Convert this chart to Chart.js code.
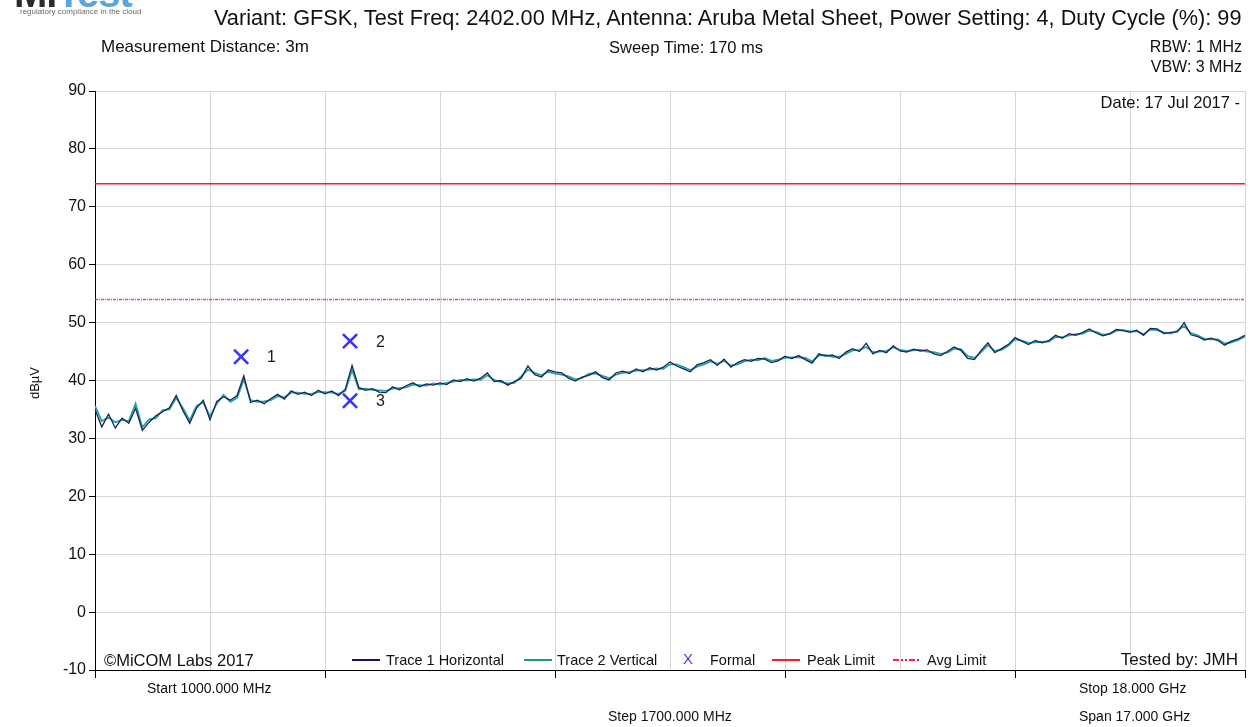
<!DOCTYPE html>
<html>
<head>
<meta charset="utf-8">
<script src="https://cdn.jsdelivr.net/npm/chart.js@4.4.1/dist/chart.umd.min.js"></script>
<style>
  body { margin: 0; background: #fff; }
  #wrap { position: relative; width: 1252px; height: 727px; overflow: hidden; font-family: "Liberation Sans", Arial, sans-serif; color: #111; }
  canvas { position: absolute; left: 0; top: 0; }
  .t { position: absolute; white-space: nowrap; line-height: 20px; height: 20px; font-size: 16px; }
  .leg { position: absolute; height: 2px; width: 28px; }
</style>
</head>
<body>
<div id="wrap">
  <canvas id="chart" width="1252" height="727"></canvas>

  <!-- logo, cut at the top edge -->
  <div class="t" style="left:14px;top:-22px;font:bold 40px 'Liberation Sans',sans-serif;line-height:30px;height:30px;letter-spacing:-1px"><span style="color:#2b2b2b">Mi</span><span style="color:#5aa6dc">Test</span></div>
  <div class="t" style="left:20px;top:7px;font-size:8px;line-height:10px;color:#6a6a6a">regulatory compliance in the cloud</div>

  <div class="t" style="left:214px;top:7px;font-size:21.7px;line-height:22px;height:22px">Variant: GFSK, Test Freq: 2402.00 MHz, Antenna: Aruba Metal Sheet, Power Setting: 4, Duty Cycle (%): 99</div>
  <div class="t" style="left:101px;top:37px;font-size:17px">Measurement Distance: 3m</div>
  <div class="t" style="left:609px;top:37px;font-size:16.5px">Sweep Time: 170 ms</div>
  <div class="t" style="right:10px;top:37px">RBW: 1 MHz</div>
  <div class="t" style="right:10px;top:57px">VBW: 3 MHz</div>
  <div class="t" style="right:12px;top:92px;font-size:16.5px">Date: 17 Jul 2017 -</div>

  <div class="t" style="left:104px;top:650px;font-size:16.5px">©MiCOM Labs 2017</div>
  <div class="t" style="right:14px;top:650px;font-size:17px">Tested by: JMH</div>

  <div class="leg" style="left:352px;top:659px;background:#14146e"></div>
  <div class="t" style="left:386px;top:650px;font-size:14.5px">Trace 1 Horizontal</div>
  <div class="leg" style="left:524px;top:659px;background:#1f9a78"></div>
  <div class="t" style="left:557px;top:650px;font-size:14.5px">Trace 2 Vertical</div>
  <div class="t" style="left:683px;top:649px;font-size:15px;color:#4b3fd6">X</div>
  <div class="t" style="left:710px;top:650px;font-size:14.5px">Formal</div>
  <div class="leg" style="left:772px;top:659px;background:#ff1a2a"></div>
  <div class="t" style="left:807px;top:650px;font-size:14.5px">Peak Limit</div>
  <svg style="position:absolute;left:893px;top:655px" width="28" height="10"><line x1="0" y1="5" x2="28" y2="5" stroke="#ff1a4a" stroke-width="2" stroke-dasharray="6 2 2 2 2 2"/></svg>
  <div class="t" style="left:927px;top:650px;font-size:14.5px">Avg Limit</div>

  <div class="t" style="left:147px;top:678px;font-size:14px">Start 1000.000 MHz</div>
  <div class="t" style="left:608px;top:706px;font-size:14px">Step 1700.000 MHz</div>
  <div class="t" style="left:1079px;top:678px;font-size:14px">Stop 18.000 GHz</div>
  <div class="t" style="left:1079px;top:706px;font-size:14px">Span 17.000 GHz</div>

  <div class="t" style="left:15px;top:373px;font-size:13px;transform:rotate(-90deg);width:40px;text-align:center">dBµV</div>
</div>

<script>
// Sweep: 1000 MHz to 18000 MHz, one reading every 100 MHz
const startMHz = 1000;
const stepMHz = 100;
const xGridMHz = [1000, 2700, 4400, 6100, 7800, 9500, 11200, 12900, 14600, 16300, 18000];

// Trace 1 Horizontal (dBµV)
const trace1 = [
  35.0, 32.0, 34.2, 31.8, 33.5, 32.6, 35.2, 31.4, 32.8, 33.9,
  34.6, 35.3, 37.4, 34.8, 32.6, 35.2, 36.6, 33.2, 36.4, 37.2,
  36.6, 37.4, 40.8, 36.2, 36.6, 36.0, 36.9, 37.6, 36.8, 38.2,
  37.6, 38.0, 37.4, 38.3, 37.7, 38.2, 37.4, 38.5, 42.6, 38.8,
  38.3, 38.6, 38.0, 37.9, 38.9, 38.4, 39.1, 39.6, 38.9, 39.4,
  39.2, 39.6, 39.3, 40.1, 39.8, 40.3, 39.9, 40.4, 41.3, 39.8,
  40.0, 39.2, 39.8, 40.4, 42.5, 41.0, 40.6, 41.8, 41.5, 41.3,
  40.4, 39.9, 40.6, 40.9, 41.5, 40.5, 40.1, 41.3, 41.6, 41.2,
  42.0, 41.5, 42.2, 41.8, 42.3, 43.2, 42.5, 42.0, 41.5, 42.7,
  43.1, 43.6, 42.6, 43.7, 42.3, 43.1, 43.6, 43.3, 43.8, 43.7,
  43.1, 43.4, 44.2, 43.8, 44.3, 43.6, 43.0, 44.6, 44.2, 44.4,
  43.8, 44.9, 45.5, 45.0, 46.4, 44.6, 45.2, 44.8, 46.0, 45.1,
  44.9, 45.4, 45.1, 45.3, 44.6, 44.3, 45.0, 45.8, 45.2, 43.8,
  43.6, 45.2, 46.5, 44.8, 45.5, 46.2, 47.4, 46.8, 46.2, 46.9,
  46.5, 46.9, 47.8, 47.3, 48.1, 47.8, 48.3, 48.9, 48.2, 47.7,
  48.1, 48.8, 48.6, 48.3, 48.7, 47.8, 49.0, 48.9, 48.1, 48.3,
  48.4, 50.0, 47.9, 47.6, 47.0, 47.3, 46.9, 46.1, 46.8, 47.2, 47.8
];

// Trace 2 Vertical (dBµV)
const trace2 = [
  35.6, 33.0, 33.6, 32.8, 33.2, 33.0, 36.0, 31.9, 33.3, 33.5,
  34.9, 35.0, 37.0, 35.2, 33.1, 35.6, 36.2, 33.8, 36.0, 37.5,
  36.3, 37.0, 40.2, 36.6, 36.3, 36.4, 36.6, 37.3, 37.1, 37.9,
  37.9, 37.7, 37.7, 38.0, 38.0, 37.9, 37.7, 38.2, 41.8, 38.5,
  38.6, 38.4, 38.3, 38.2, 38.6, 38.7, 38.8, 39.3, 39.2, 39.1,
  39.5, 39.3, 39.6, 39.8, 40.1, 40.0, 40.2, 40.1, 40.9, 40.1,
  39.7, 39.5, 39.6, 40.7, 41.9, 41.3, 40.9, 41.5, 41.2, 41.0,
  40.7, 40.2, 40.4, 41.2, 41.2, 40.8, 40.4, 41.0, 41.3, 41.5,
  41.7, 41.8, 41.9, 42.1, 42.0, 42.8, 42.8, 42.3, 41.8, 42.4,
  42.8, 43.3, 42.9, 43.4, 42.6, 42.8, 43.3, 43.6, 43.5, 43.9,
  43.4, 43.6, 43.9, 44.0, 44.0, 43.9, 43.3, 44.3, 44.4, 44.1,
  44.1, 44.6, 45.2, 45.3, 45.8, 44.9, 45.0, 45.1, 45.7, 45.3,
  45.1, 45.2, 45.3, 45.0, 44.9, 44.6, 44.8, 45.5, 45.4, 44.2,
  43.9, 44.9, 46.1, 45.1, 45.3, 46.0, 47.1, 46.9, 46.5, 46.6,
  46.7, 46.7, 47.5, 47.5, 47.8, 48.0, 48.1, 48.6, 48.4, 47.9,
  48.0, 48.6, 48.7, 48.5, 48.5, 48.0, 48.8, 48.7, 48.3, 48.1,
  48.6, 49.4, 48.2, 47.8, 47.2, 47.1, 47.1, 46.4, 46.6, 47.0, 47.6
];

// Limits
const peakLimit = 74;
const avgLimit = 54;

// Formal markers
const markerNames = ['1', '2', '3'];
const markerMHz = [3160, 4770, 4770];
const markerLevel = [44.1, 46.8, 36.5];

const toPoints = vals => vals.map((v, i) => ({ x: startMHz + i * stepMHz, y: v }));
const limitLine = lvl => [{ x: xGridMHz[0], y: lvl }, { x: xGridMHz[xGridMHz.length - 1], y: lvl }];

const gridGray = '#d6d6d6';
const tickFont = { family: "'Liberation Sans', Arial, sans-serif", size: 16 };

// numeros junto a los marcadores
const markerLabels = {
  id: 'markerLabels',
  afterDatasetsDraw(chart) {
    const idx = chart.data.datasets.findIndex(d => d.label === 'Formal');
    const meta = chart.getDatasetMeta(idx);
    const c = chart.ctx;
    c.save();
    c.font = "16px 'Liberation Sans', sans-serif";
    c.fillStyle = '#1a1a1a';
    c.textBaseline = 'middle';
    meta.data.forEach((pt, i) => c.fillText(markerNames[i], pt.x + 26, pt.y + 1));
    c.restore();
  }
};

new Chart(document.getElementById('chart'), {
  type: 'line',
  data: {
    datasets: [
      { label: 'Trace 2 Vertical', data: toPoints(trace2), borderColor: '#25a3a3', borderWidth: 1.8, pointRadius: 0, order: 4 },
      { label: 'Trace 1 Horizontal', data: toPoints(trace1), borderColor: '#1a225e', borderWidth: 1.3, pointRadius: 0, order: 3 },
      { label: 'Peak Limit', data: limitLine(peakLimit), borderColor: '#ff1a2a', borderWidth: 1.5, pointRadius: 0, order: 2 },
      { label: 'Avg Limit', data: limitLine(avgLimit), borderColor: 'rgba(255,30,90,0.85)', borderWidth: 1.5, borderDash: [3, 1, 1, 1], pointRadius: 0, order: 2 },
      {
        label: 'Formal',
        data: markerMHz.map((f, i) => ({ x: f, y: markerLevel[i] })),
        showLine: false,
        pointStyle: 'crossRot',
        pointRadius: 10,
        pointBorderWidth: 2.6,
        borderColor: '#3535ff',
        backgroundColor: '#3535ff',
        order: 0
      }
    ]
  },
  options: {
    responsive: false,
    animation: false,
    layout: { autoPadding: false, padding: { top: 91, right: 7, left: 0, bottom: 0 } },
    plugins: { legend: { display: false }, tooltip: { enabled: false } },
    scales: {
      x: {
        type: 'linear',
        min: 1000,
        max: 18000,
        afterBuildTicks: s => { s.ticks = xGridMHz.map(v => ({ value: v })); },
        afterFit: s => { s.height = 57; },
        ticks: { display: false },
        grid: {
          color: gridGray,
          tickColor: ctx => (ctx.index % 2 === 0 ? '#000' : 'rgba(0,0,0,0)'),
          tickLength: 8
        },
        border: { color: '#000', width: 1 }
      },
      y: {
        min: -10,
        max: 90,
        ticks: { stepSize: 10, color: '#111', font: tickFont, padding: 3 },
        afterFit: s => { s.width = 95; },
        grid: { color: gridGray, tickColor: '#000', tickLength: 6 },
        border: { color: '#000', width: 1 }
      }
    }
  },
  plugins: [markerLabels]
});
</script>
</body>
</html>
